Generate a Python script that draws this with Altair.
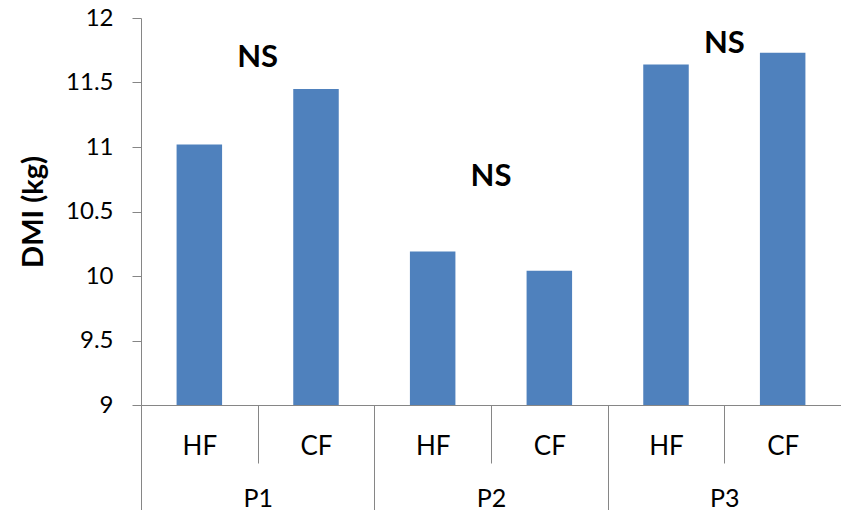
import altair as alt
import pandas as pd

# ---- data ----
periods = ["P1", "P1", "P2", "P2", "P3", "P3"]
groups = ["HF", "CF", "HF", "CF", "HF", "CF"]
dmi = [11.02, 11.45, 10.19, 10.04, 11.64, 11.73]

ns_periods = ["P1", "P2", "P3"]
ns_labels = ["NS", "NS", "NS"]
ns_y = [11.69, 10.77, 11.80]

y_ticks = [9, 9.5, 10, 10.5, 11, 11.5, 12]

keys = [f"{p}-{g}" for p, g in zip(periods, groups)]
bars_df = pd.DataFrame({"period": periods, "group": groups, "key": keys, "dmi": dmi})
ns_df = pd.DataFrame({"period": ns_periods, "label": ns_labels, "y": ns_y})

AXIS_GRAY = "#868686"
FONT = "Lato"
W, H = 700, 387

y_scale = alt.Scale(domain=[9, 12], zero=False, nice=False)


def y_axis():
    return alt.Axis(
        values=y_ticks, format="~g", grid=False, tickSize=9, labelPadding=19,
        labelFontSize=24, labelFont=FONT, labelColor="#000",
        domainColor=AXIS_GRAY, tickColor=AXIS_GRAY,
        title="DMI (kg)", titleFont=FONT, titleFontSize=29,
        titleFontWeight="bold", titleColor="#000", titlePadding=17,
    )


bars = alt.Chart(bars_df).mark_bar(
    color="#4F81BD", width=alt.RelativeBandSize(0.39)
).encode(
    x=alt.X(
        "key:N", sort=keys,
        scale=alt.Scale(type="band", paddingInner=0, paddingOuter=0),
        axis=alt.Axis(
            title=None, orient="bottom", tickBand="extent", tickSize=58,
            labelPadding=-30, labelExpr="split(datum.value, '-')[1]",
            labelAngle=0, labelFontSize=26, labelFont=FONT, labelColor="#000",
            domainColor=AXIS_GRAY, tickColor=AXIS_GRAY,
        ),
    ),
    y=alt.Y("dmi:Q", scale=y_scale, axis=y_axis()),
    y2=alt.datum(9),
)

ns = alt.Chart(ns_df).mark_text(
    fontSize=31, fontWeight="bold", font=FONT, color="#000"
).encode(
    x=alt.X(
        "period:N", sort=ns_periods,
        scale=alt.Scale(type="band", paddingInner=0, paddingOuter=0),
        axis=alt.Axis(
            title=None, orient="bottom", tickBand="extent", tickSize=120,
            labelPadding=-39, labelAngle=0, labelFontSize=25, labelFont=FONT,
            labelColor="#000", domain=False, tickColor=AXIS_GRAY,
        ),
    ),
    y=alt.Y("y:Q", scale=y_scale, axis=y_axis()),
    text="label:N",
)

chart = (
    alt.layer(bars, ns)
    .resolve_scale(x="independent")
    .properties(
        width=W, height=H,
        autosize=alt.AutoSizeParams(type="none"),
        padding={"left": 133, "top": 10, "right": 0, "bottom": 105},
    )
    .configure_view(stroke=None)
)

chart.save("out.html", embed_options={"renderer": "svg", "actions": False})
